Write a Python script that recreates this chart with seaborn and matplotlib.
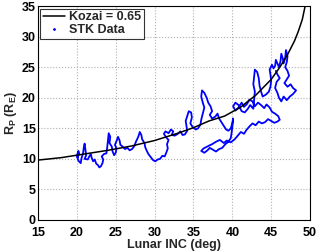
import matplotlib
matplotlib.use("Agg")
import matplotlib.pyplot as plt
from matplotlib.lines import Line2D
import seaborn as sns
import pandas as pd

# Kozai curve
kozai_inc = [15, 18, 21, 24, 27, 30, 33, 35, 37, 39, 41, 42, 43, 44, 45, 46, 47, 48, 48.5, 49, 49.4]
kozai_rp = [9.8, 10.2, 10.8, 11.4, 12.1, 13.0, 14.2, 15.1, 16.2, 17.0, 18.4, 19.4, 20.4, 21.7, 23.0,
            24.8, 26.8, 29.3, 30.9, 32.8, 35.2]

# STK trace (inc, rp) in time order
stk_points = [
    (20.1, 10.2), (20.3, 10.9), (20.2, 11.3), (20.0, 10.5), (20.2, 9.7), (20.5, 9.3), (20.6, 10.1),
    (20.8, 10.9), (20.9, 11.9), (21.0, 12.5), (21.1, 11.6), (21.2, 10.6), (21.0, 10.0), (21.4, 9.9),
    (21.6, 10.4), (21.8, 10.8), (21.9, 10.2), (22.1, 9.6), (22.3, 9.9), (22.5, 9.2), (22.7, 9.0),
    (22.9, 8.6), (23.1, 8.8), (23.3, 9.3), (23.4, 9.9), (23.2, 10.4), (23.5, 10.8), (23.8, 10.9),
    (23.9, 11.8), (24.0, 13.0), (24.1, 14.2), (24.3, 13.6), (24.2, 12.6), (24.5, 12.0), (24.6, 11.2),
    (24.8, 10.6), (25.0, 11.0), (25.1, 11.7), (24.9, 12.3), (25.1, 12.9), (25.3, 13.6), (25.5, 13.0),
    (25.6, 12.3), (25.9, 12.0), (26.2, 11.6), (26.5, 11.8), (26.8, 11.4), (27.1, 11.6), (27.4, 12.1),
    (27.6, 12.8), (27.9, 13.6), (28.1, 14.4), (28.3, 13.9), (28.4, 13.2), (28.7, 12.6), (28.8, 11.9),
    (29.0, 11.3), (29.2, 10.8), (29.5, 10.3), (29.8, 9.8), (30.1, 9.6), (30.4, 9.9), (30.7, 10.0),
    (31.0, 10.5), (31.3, 10.4), (31.5, 11.0), (31.7, 11.7), (31.6, 12.4), (31.8, 13.1), (31.5, 13.5),
    (31.2, 14.1), (31.4, 14.5), (31.8, 14.2), (32.1, 14.8), (32.4, 14.5), (32.2, 13.9), (32.6, 13.8),
    (33.0, 14.1), (33.3, 14.5), (33.6, 13.9), (33.9, 14.0), (34.2, 14.6), (34.1, 15.4), (34.0, 16.2),
    (34.2, 17.0), (34.4, 17.8), (34.7, 17.6), (34.8, 16.8), (34.6, 15.8), (34.9, 15.2), (35.3, 14.8),
    (35.6, 15.0), (35.9, 15.6), (36.0, 16.4), (36.2, 17.4), (36.4, 18.4), (36.2, 19.2), (36.0, 20.2),
    (36.1, 21.2), (36.4, 20.8), (36.7, 20.0), (36.9, 19.2), (37.2, 18.6), (37.4, 17.8), (37.1, 17.2),
    (37.4, 16.6), (37.8, 16.9), (38.1, 17.4), (38.3, 16.6), (38.6, 16.0), (38.9, 15.4), (39.2, 14.8),
    (39.5, 14.6), (39.8, 15.0), (40.0, 15.8), (40.1, 16.6), (40.0, 15.2), (39.9, 14.2), (39.8, 13.4),
    (39.5, 12.8), (39.1, 12.4), (38.7, 11.8), (38.3, 11.6), (37.9, 11.2), (37.5, 11.5), (37.1, 11.8),
    (36.8, 11.4), (36.4, 11.0), (36.0, 11.3), (36.3, 11.7), (36.9, 12.1), (37.4, 12.4), (37.9, 12.8),
    (38.4, 13.1), (38.9, 12.6), (39.3, 13.0), (39.8, 12.7), (40.3, 13.2), (40.7, 13.8), (41.1, 14.4),
    (41.5, 14.1), (41.8, 14.7), (42.2, 15.3), (42.6, 15.8), (43.0, 15.5), (43.4, 16.1), (43.8, 15.8),
    (44.2, 16.0), (44.6, 16.5), (45.0, 16.2), (45.4, 15.9), (45.8, 16.1), (46.1, 16.4), (45.9, 17.0),
    (45.5, 17.4), (45.1, 17.7), (44.8, 18.4), (44.4, 18.9), (44.1, 18.3), (43.7, 18.8), (43.3, 19.2),
    (42.9, 18.6), (42.6, 19.4), (42.2, 19.7), (41.9, 19.0), (41.5, 18.5), (41.2, 19.2), (40.8, 18.4),
    (40.4, 17.9), (40.1, 18.6), (40.4, 19.2), (40.8, 18.8), (41.2, 17.8), (41.6, 17.6), (42.0, 18.2),
    (42.3, 18.8), (42.7, 18.2), (42.8, 19.6), (42.9, 21.0), (42.7, 22.2), (42.8, 23.4), (42.9, 24.6),
    (43.2, 24.2), (43.4, 23.2), (43.5, 22.0), (43.7, 21.0), (43.9, 20.2), (44.3, 20.5), (44.7, 21.0),
    (44.9, 21.8), (45.0, 22.8), (44.9, 23.8), (44.8, 24.6), (45.1, 25.4), (45.3, 24.8), (45.5, 25.2),
    (45.6, 26.2), (45.8, 25.6), (46.0, 25.0), (46.2, 26.0), (46.3, 27.2), (46.5, 26.4), (46.6, 25.6),
    (46.8, 26.6), (46.9, 27.8), (47.1, 26.8), (47.0, 25.8), (46.8, 25.0), (47.1, 24.4), (47.3, 23.6),
    (47.0, 23.0), (46.7, 22.4), (47.1, 21.8), (47.5, 22.2), (47.8, 21.6), (48.2, 21.2), (47.8, 20.6),
    (47.4, 20.2), (47.0, 19.6), (46.6, 20.2), (46.3, 19.4), (46.0, 20.0), (45.8, 20.8), (45.5, 21.6),
    (45.7, 22.6), (46.1, 23.2), (45.8, 23.8), (45.6, 24.4),
]

kozai = pd.DataFrame({"inc": kozai_inc, "rp": kozai_rp})
stk = pd.DataFrame(stk_points, columns=["inc", "rp"])

sns.set_style("white")
plt.rcParams["font.family"] = ["Liberation Sans", "DejaVu Sans"]
plt.rcParams["font.weight"] = "bold"
plt.rcParams["mathtext.fontset"] = "custom"
plt.rcParams["mathtext.bf"] = "Liberation Sans:bold"
plt.rcParams["mathtext.rm"] = "Liberation Sans:bold"

fig = plt.figure(figsize=(3.19, 2.52), dpi=100)
ax = fig.add_axes([0.119, 0.127, 0.853, 0.849])

sns.lineplot(data=stk, x="inc", y="rp", sort=False, estimator=None, color="blue", lw=1.3, ax=ax)
sns.lineplot(data=kozai, x="inc", y="rp", sort=False, estimator=None, color="black", lw=1.1, ax=ax)

ax.set_xlim(15, 50)
ax.set_ylim(0, 35)
ax.set_xticks(range(15, 51, 5))
ax.set_yticks(range(0, 36, 5))
ax.grid(True, ls=":", color="#b0b0b0", lw=0.8)
for s in ax.spines.values():
    s.set_color("black")
    s.set_linewidth(0.8)
ax.tick_params(direction="in", length=3, labelsize=9, colors="black")
ax.tick_params(axis="x", pad=5)
ax.tick_params(axis="y", pad=1.5)
for lbl in ax.get_xticklabels() + ax.get_yticklabels():
    lbl.set_fontweight("bold")

ax.set_xlabel("Lunar INC (deg)", fontsize=9, fontweight="bold", labelpad=0)
ax.set_ylabel(r"R$_\mathbf{P}$ (R$_\mathbf{E}$)", fontsize=9, fontweight="bold", labelpad=2)

handles = [Line2D([], [], color="black", lw=1.1),
           Line2D([], [], color="blue", marker=".", ms=2, ls="none")]
leg = ax.legend(handles, ["Kozai = 0.65", "STK Data"], loc="upper left",
                prop={"weight": "bold", "size": 9}, frameon=True, fancybox=False,
                borderaxespad=0.2, handlelength=1.8, handletextpad=0.3, borderpad=0.2,
                labelspacing=0.1)
leg.get_frame().set_edgecolor("black")
leg.get_frame().set_linewidth(0.8)

fig.savefig("out.png", dpi=100)
